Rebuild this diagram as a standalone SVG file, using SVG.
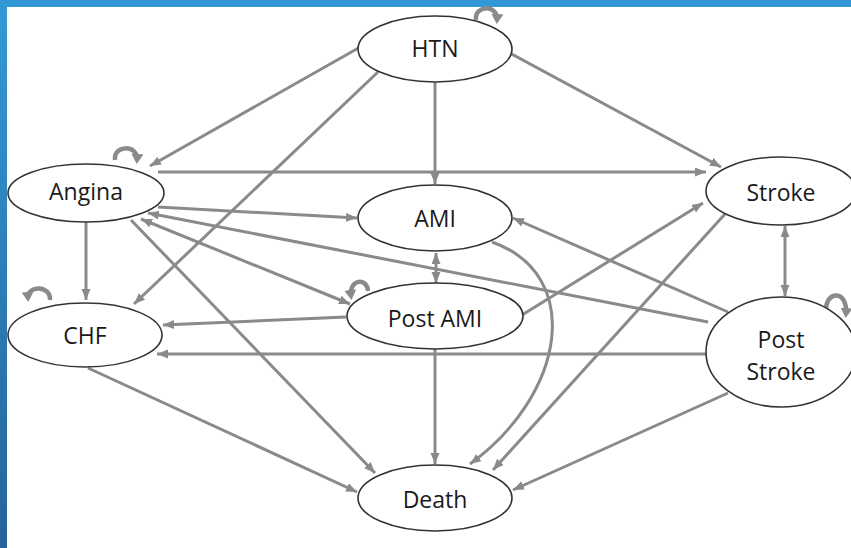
<svg xmlns="http://www.w3.org/2000/svg" width="851" height="548" viewBox="0 0 851 548">
<style>
.node ellipse{fill:#fff;stroke:#333;stroke-width:1.6}
.node text{font-family:"Open Sans","Liberation Sans",sans-serif;font-size:23px;fill:#1a1a1a;text-anchor:middle}
.edge{fill:none;stroke:#8a8a8a;stroke-width:3}
.loop{fill:none;stroke:#8a8a8a;stroke-width:4.5}
</style>
<defs>
<linearGradient id="side" x1="0" y1="0" x2="0" y2="1">
<stop offset="0" stop-color="#3399d6"/>
<stop offset="1" stop-color="#25639a"/>
</linearGradient>
<marker id="ah" markerUnits="userSpaceOnUse" markerWidth="12" markerHeight="10" refX="11" refY="4.5" orient="auto-start-reverse">
<path d="M0,0 L11,4.5 L0,9 z" fill="#8a8a8a"/>
</marker>
<marker id="lh" markerUnits="userSpaceOnUse" markerWidth="12" markerHeight="12" refX="6" refY="6" orient="auto">
<path d="M0,0 L10,6 L0,12 z" fill="#8a8a8a"/>
</marker>
</defs>
<rect x="0" y="0" width="851" height="548" fill="#fff"/>
<rect x="0" y="0" width="851" height="7" fill="#3399d6"/>
<rect x="0" y="0" width="7" height="548" fill="url(#side)"/>

<g id="connectors">
<path class="edge" d="M362,46 L150,166" marker-end="url(#ah)"/>
<path class="edge" d="M378,72 L134,304" marker-end="url(#ah)"/>
<path class="edge" d="M435,82 L435,184" marker-end="url(#ah)"/>
<path class="edge" d="M508,52 L721,167" marker-end="url(#ah)"/>
<path class="edge" d="M158,172 L706,172" marker-end="url(#ah)"/>
<path class="edge" d="M158,207 L357,218" marker-end="url(#ah)"/>
<path class="edge" d="M708,322 L148,213" marker-end="url(#ah)"/>
<path class="edge" d="M141,219 L350,304" marker-start="url(#ah)" marker-end="url(#ah)"/>
<path class="edge" d="M131,220 L375,473" marker-end="url(#ah)"/>
<path class="edge" d="M86,222 L86,300" marker-end="url(#ah)"/>
<path class="edge" d="M346,317 L163,325" marker-end="url(#ah)"/>
<path class="edge" d="M706,354 L157,354" marker-end="url(#ah)"/>
<path class="edge" d="M88,368 L357,492" marker-end="url(#ah)"/>
<path class="edge" d="M436,253 L436,283" marker-start="url(#ah)" marker-end="url(#ah)"/>
<path class="edge" d="M492,242 C585,275 565,395 470,464" marker-end="url(#ah)"/>
<path class="edge" d="M435,349 L435,464" marker-end="url(#ah)"/>
<path class="edge" d="M522,315 L703,203" marker-end="url(#ah)"/>
<path class="edge" d="M725,214 L493,470" marker-end="url(#ah)"/>
<path class="edge" d="M728,312 L513,218" marker-end="url(#ah)"/>
<path class="edge" d="M785,226 L785,296" marker-start="url(#ah)" marker-end="url(#ah)"/>
<path class="edge" d="M728,393 L513,490" marker-end="url(#ah)"/>
<path class="loop" d="M476,20 C474,5 498,4 497,20" marker-end="url(#lh)"/>
<path class="loop" d="M115,160 C113,145 138,144 137,160" marker-end="url(#lh)"/>
<path class="loop" d="M50,300 C51,285 27,285 28,298" marker-end="url(#lh)"/>
<path class="loop" d="M368,291 C367,277 349,279 351,296" marker-end="url(#lh)"/>
<path class="loop" d="M826,310 C826,290 848,290 846,314" marker-end="url(#lh)"/>
</g>

<g id="HTN" class="node"><ellipse cx="435" cy="49" rx="77" ry="33"/><text x="435" y="57">HTN</text></g>
<g id="Angina" class="node"><ellipse cx="86" cy="193" rx="78" ry="29"/><text x="86" y="200">Angina</text></g>
<g id="AMI" class="node"><ellipse cx="435" cy="218" rx="77" ry="33"/><text x="435" y="227">AMI</text></g>
<g id="Stroke" class="node"><ellipse cx="781" cy="191" rx="75" ry="34"/><text x="781" y="201">Stroke</text></g>
<g id="CHF" class="node"><ellipse cx="85" cy="335" rx="77" ry="32"/><text x="85" y="344">CHF</text></g>
<g id="PostAMI" class="node"><ellipse cx="435" cy="316" rx="88" ry="33"/><text x="435" y="327">Post AMI</text></g>
<g id="PostStroke" class="node"><ellipse cx="781" cy="352" rx="75" ry="55"/><text x="781" y="348">Post</text><text x="781" y="380">Stroke</text></g>
<g id="Death" class="node"><ellipse cx="435" cy="498" rx="77" ry="33"/><text x="435" y="508">Death</text></g>
</svg>
